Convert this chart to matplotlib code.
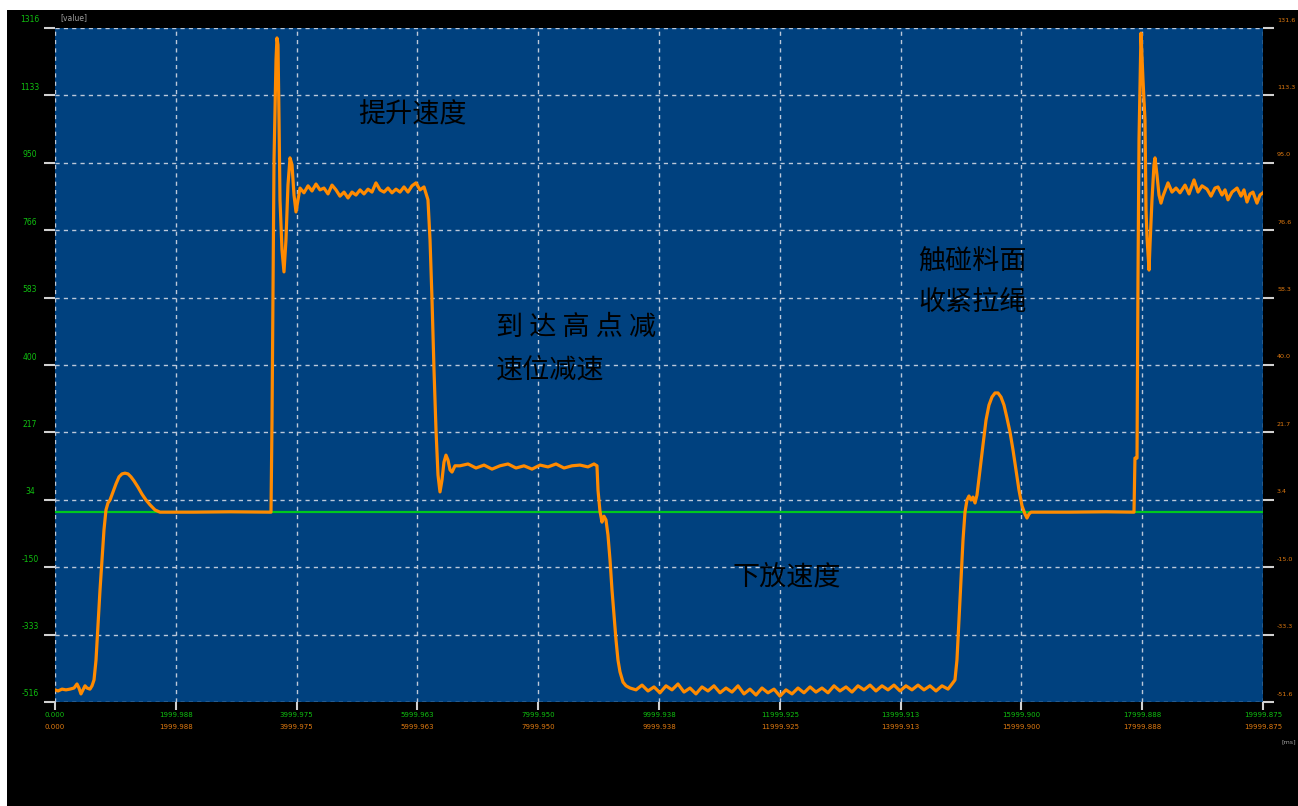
import matplotlib
matplotlib.use("Agg")
import matplotlib.pyplot as plt
from matplotlib.patches import Rectangle
import matplotlib.transforms as mtransforms

# ---------------- data ----------------
time_ms = [
    0, 50, 116, 182, 248, 315, 364, 397, 430, 464, 497, 530, 579, 613, 646, 679, 712, 745, 778, 811,
    844, 877, 911, 960, 1010, 1060, 1109, 1159, 1209, 1258, 1308, 1374, 1440, 1507, 1573, 1656, 1738,
    2300, 2900, 3576,
    3593, 3626, 3659, 3675, 3692, 3709, 3725, 3758, 3791, 3824, 3857, 3891, 3924, 3957, 3990, 4023, 4056,
    4122, 4189, 4255, 4321, 4387, 4453, 4520, 4586, 4652, 4718, 4785, 4851, 4917, 4983, 5050, 5116, 5182,
    5248, 5314, 5381, 5447, 5513, 5579, 5645, 5712, 5778, 5844, 5910, 5976, 6043, 6109, 6175,
    6209, 6242, 6275, 6308, 6341, 6374, 6407, 6440, 6473, 6506, 6540, 6573, 6622,
    6705, 6838, 6970, 7103, 7235, 7367, 7500, 7632, 7765, 7897, 8030, 8162, 8295, 8427, 8559, 8692, 8824,
    8924, 8973,
    8990, 9023, 9056, 9089, 9122, 9155, 9189, 9222, 9255, 9288, 9321, 9354, 9404, 9454, 9520,
    9619, 9719, 9818, 9917, 10016, 10116, 10215, 10314, 10414, 10513, 10612, 10712, 10811, 10910, 11010,
    11109, 11208, 11308, 11407, 11506, 11606, 11705, 11804, 11904, 12003, 12102, 12202, 12301, 12400,
    12500, 12599, 12698, 12798, 12897, 12996, 13096, 13195, 13294, 13394, 13493, 13592, 13692, 13791,
    13890, 13990, 14089, 14188, 14288, 14387, 14487, 14586, 14685, 14785, 14851,
    14900, 14933, 14966, 15000, 15033, 15066, 15099, 15132, 15165, 15199, 15232, 15265, 15314, 15364,
    15414, 15463, 15513, 15563, 15612, 15662, 15712, 15761, 15811, 15861, 15910, 15960, 16010, 16059,
    16092, 16126, 16159, 16800, 17400, 17864,
    17880, 17914, 17930, 17947, 17980, 18013, 18046, 18063, 18080, 18113, 18129, 18162, 18195, 18212,
    18245, 18278, 18311, 18344, 18394,
    18427, 18493, 18560, 18626, 18709, 18775, 18858, 18924, 18990, 19073, 19139, 19205, 19255, 19321,
    19371, 19420, 19487, 19570, 19636, 19685, 19735, 19785, 19834, 19900, 19950, 19999.875,
]
speed = [
    -483, -486, -481, -483, -481, -478, -467, -478, -494, -483, -472, -478, -481, -472, -456, -402, -307,
    -212, -130, -48,
    6, 25, 33, 55, 77, 96, 104, 106, 104, 96, 85, 68, 49, 33, 20, 6, 0,
    0, 1, 0,
    250, 957, 1229, 1289, 1270, 1066, 849, 713, 653, 740, 889, 963, 944, 862, 816, 849, 881,
    868, 887, 873, 892, 876, 881, 865, 889, 876, 859, 870, 854, 870, 862, 876, 865, 878, 870, 895, 876,
    870, 881, 868, 878, 870, 884, 870, 887, 895, 876, 884, 849,
    740, 577, 386, 223, 101, 55, 87, 136, 155, 142, 115, 109, 126,
    126, 131, 120, 128, 117, 126, 131, 120, 126, 117, 128, 123, 131, 120, 126, 128, 123,
    131, 126,
    60, 2, -27, -11, -21, -62, -130, -212, -279, -347, -402, -434, -462, -472, -478,
    -483, -470, -486, -475, -491, -472, -483, -467, -489, -478, -494, -475, -486, -472, -491,
    -478, -489, -472, -494, -481, -497, -478, -491, -481, -500, -483, -494, -478, -491,
    -475, -489, -478, -491, -472, -486, -475, -489, -472, -483, -470, -486, -472, -483,
    -470, -486, -472, -483, -470, -483, -472, -486, -472, -481, -467,
    -456, -402, -293, -184, -76, 0, 33, 44, 33, 41, 25, 47, 115, 183,
    250, 291, 313, 324, 324, 313, 291, 256, 218, 169, 115, 60, 17, -5,
    -16, -5, 0, 0, 1, 0,
    147, 147, 631, 1012, 1302, 1175, 1066, 821, 745, 658, 726, 849, 944, 963,
    916, 862, 840, 859, 881,
    895, 870, 881, 868, 889, 865, 903, 870, 887, 878, 859, 881, 884, 862,
    876, 849, 870, 881, 859, 876, 843, 865, 870, 840, 862, 868,
]

y_ticks = [-516, -332.8, -149.6, 33.6, 216.8, 400, 583.2, 766.4, 949.6, 1132.8, 1316]
y_left_labels = ["-516", "-333", "-150", "34", "217", "400", "583", "766", "950", "1133", "1316"]
y_right_labels = ["-51.6", "-33.3", "-15.0", "3.4", "21.7", "40.0", "58.3", "76.6", "95.0", "113.3", "131.6"]
x_ticks = [0, 1999.988, 3999.975, 5999.963, 7999.950, 9999.938, 11999.925, 13999.913,
           15999.900, 17999.888, 19999.875]
x_labels = ["0.000", "1999.988", "3999.975", "5999.963", "7999.950", "9999.938", "11999.925",
            "13999.913", "15999.900", "17999.888", "19999.875"]

annotations = [
    ("提升速度", 5016, 1079),
    ("到 达 高 点 减", 7301, 503),
    ("速位减速", 7301, 386),
    ("触碰料面", 14288, 680),
    ("收紧拉绳", 14288, 571),
    ("下放速度", 11225, -176),
]

# ---------------- figure ----------------
W, H = 1298, 806
fig = plt.figure(figsize=(W / 100, H / 100), dpi=100, facecolor="white")
bg = Rectangle((7 / W, 0), 1, (H - 10) / H, transform=fig.transFigure,
               facecolor="black", edgecolor="none", zorder=-10)
fig.patches.append(bg)

ax = fig.add_axes([55 / W, (H - 702) / H, (1263 - 55) / W, (702 - 28) / H])
ax.set_zorder(1)
ax.set_facecolor("#00417F")
ax.set_xlim(0, 19999.875)
ax.set_ylim(-516, 1316)
for s in ax.spines.values():
    s.set_visible(False)

ax.set_xticks(x_ticks)
ax.set_yticks(y_ticks)
ax.set_xticklabels([])
ax.set_yticklabels([])
ax.tick_params(axis="y", direction="out", length=8, width=1.5, color="#D0D0D0",
               left=True, right=True)
ax.tick_params(axis="x", direction="out", length=6, width=1.5, color="#D0D0D0")
ax.grid(True, color="#BCC8DA", linestyle=(0, (3, 3)), linewidth=1)
ax.set_axisbelow(True)

ax.axhline(0, color="#00C81E", lw=1.6, zorder=2)
ax.plot(time_ms, speed, color="#FF8A00", lw=2.3, zorder=3, solid_joinstyle="round")

# tick labels
mono = "DejaVu Sans"
left_tr = mtransforms.offset_copy(ax.get_yaxis_transform(), fig=fig, x=-25, y=8, units="dots")
right_tr = mtransforms.offset_copy(ax.get_yaxis_transform(), fig=fig, x=14, y=8, units="dots")
for yv, ll, rl in zip(y_ticks, y_left_labels, y_right_labels):
    ax.text(0, yv, ll, transform=left_tr, ha="center", va="center", fontsize=5.5,
            color="#10C010", family=mono, clip_on=False)
    ax.text(1, yv, rl, transform=right_tr, ha="left", va="center", fontsize=4.6,
            color="#E07A10", family=mono, clip_on=False)

row1 = mtransforms.offset_copy(ax.get_xaxis_transform(), fig=fig, y=-13, units="dots")
row2 = mtransforms.offset_copy(ax.get_xaxis_transform(), fig=fig, y=-25, units="dots")
for xv, lab in zip(x_ticks, x_labels):
    ax.text(xv, 0, lab, transform=row1, ha="center", va="center", fontsize=5,
            color="#10C010", family=mono, clip_on=False)
    ax.text(xv, 0, lab, transform=row2, ha="center", va="center", fontsize=5,
            color="#E07A10", family=mono, clip_on=False)

fig.text(60 / W, 1 - 18 / H, "[value]", fontsize=5.5, color="#A0A0A0", ha="left",
         va="center", family=mono)
fig.text(1281 / W, 1 - 742 / H, "[ms]", fontsize=4.6, color="#A0A0A0", ha="left",
         va="center", family=mono)

# annotations
for txt, xv, yv in annotations:
    ax.text(xv, yv, txt, ha="left", va="center", fontsize=19.5, color="black",
            family=["Noto Sans CJK SC", "DejaVu Sans"], zorder=5)

fig.savefig("out.png", dpi=100, facecolor="white")
